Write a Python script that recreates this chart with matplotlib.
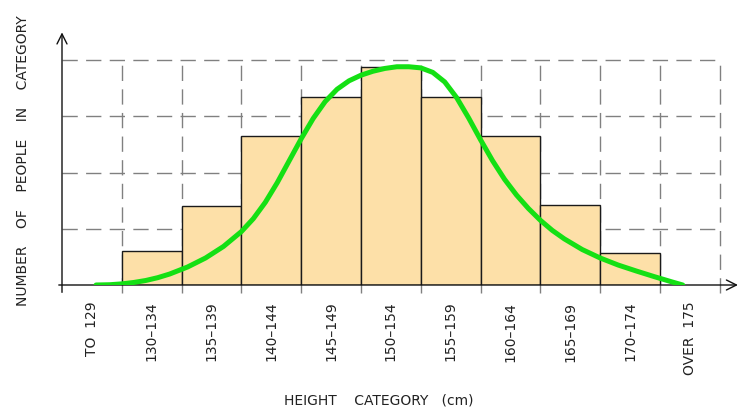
import numpy as np
import matplotlib.pyplot as plt

# categories along the x axis (one column each)
categories = ['TO  129', '130–134', '135–139', '140–144', '145–149', '150–154',
              '155–159', '160–164', '165–169', '170–174', 'OVER  175']

# bar heights for the middle nine categories (grid step = 10)
bar_values = [6, 14, 26.5, 33.4, 38.7, 33.4, 26.5, 14.2, 5.7]

# green curve (x in column units, y in same units as bars)
curve_x = [0.57, 0.8, 1.0, 1.2, 1.4, 1.6, 1.8, 2.1, 2.4, 2.7, 3.0, 3.2, 3.4,
           3.6, 3.8, 4.0, 4.2, 4.4, 4.6, 4.8, 5.0, 5.2, 5.4, 5.6, 5.8, 6.0,
           6.2, 6.4, 6.6, 6.8, 7.0, 7.2, 7.4, 7.6, 7.8, 8.0, 8.2, 8.4, 8.7,
           9.0, 9.3, 9.6, 9.9, 10.2, 10.38]
curve_y = [0.0, 0.05, 0.2, 0.45, 0.8, 1.3, 1.95, 3.2, 4.8, 6.85, 9.5, 11.8,
           14.7, 18.2, 22.1, 26.0, 29.6, 32.6, 34.8, 36.3, 37.3, 38.0, 38.5,
           38.8, 38.8, 38.6, 37.8, 36.1, 33.3, 29.7, 25.8, 22.1, 18.8, 16.0,
           13.6, 11.5, 9.7, 8.2, 6.3, 4.8, 3.55, 2.5, 1.5, 0.55, 0.0]

grid_levels = [10, 20, 30, 40]


def main():
    fig = plt.figure(figsize=(7.55, 4.2), dpi=100)
    ax = fig.add_axes([62 / 755, (420 - 285) / 420, 678 / 755, 255 / 420])
    ax.set_xlim(0, 678 / 59.8)
    ax.set_ylim(0, 255 / 5.625)
    for s in ax.spines.values():
        s.set_visible(False)

    ncol = len(categories)
    dash = (0, (11, 6))
    for lev in grid_levels:
        ax.plot([0, ncol], [lev, lev], color='#808080', lw=1.0, ls=dash, zorder=1)
    for i in range(1, ncol + 1):
        ax.plot([i, i], [-1.5, 40.4], color='#808080', lw=1.0, ls=dash,
                zorder=1, clip_on=False)

    xs = np.arange(1, ncol - 1) + 0.5
    ax.bar(xs, bar_values, width=1.0, color='#fde0a8', edgecolor='#1a1a1a',
           linewidth=1.0, zorder=2)

    ax.plot(curve_x, curve_y, color='#14e014', lw=3.6, solid_capstyle='round',
            solid_joinstyle='round', zorder=4)

    # axes with open arrowheads
    ax.annotate('', xy=(0, 45.4), xytext=(0, -1.8), annotation_clip=False,
                arrowprops=dict(arrowstyle='->', lw=1.0, color='#111111',
                                mutation_scale=18))
    ax.annotate('', xy=(11.35, 0), xytext=(-0.1, 0), annotation_clip=False,
                arrowprops=dict(arrowstyle='->', lw=1.0, color='#111111',
                                mutation_scale=18))

    ax.set_xticks(np.arange(ncol) + 0.5)
    ax.set_xticklabels(categories, rotation=90, fontsize=10, color='#222222')
    ax.tick_params(axis='x', length=0, pad=12)
    ax.set_yticks([])

    fig.text(379 / 755, 1 - 400 / 420, 'HEIGHT    CATEGORY   (cm)', ha='center',
             va='center', fontsize=10, color='#222222')
    fig.text(23 / 755, 1 - 161 / 420,
             'NUMBER    OF    PEOPLE    IN    CATEGORY', rotation=90,
             ha='center', va='center', fontsize=10, color='#222222')

    fig.savefig('out.png', dpi=100)
    plt.close(fig)


if __name__ == '__main__':
    main()
